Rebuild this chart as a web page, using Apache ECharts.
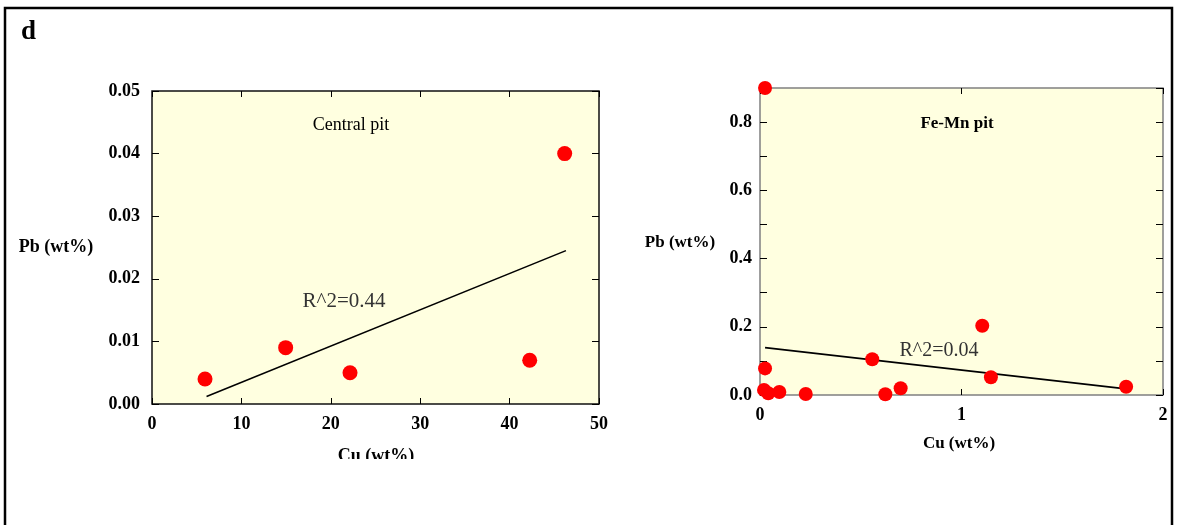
<!DOCTYPE html>
<html>
<head>
<meta charset="utf-8">
<script src="https://cdn.jsdelivr.net/npm/echarts@6/dist/echarts.min.js"></script>
<style>
  html, body { margin: 0; padding: 0; background: #ffffff; }
  #chart { width: 1178px; height: 525px; }
</style>
</head>
<body>
<div id="chart"></div>
<script>
// Central pit samples: Cu vs Pb (wt%)
const centralCu = [5.93, 14.95, 22.15, 42.25, 46.16];
const centralPb = [0.004, 0.009, 0.005, 0.007, 0.040];
// Trend line end points for the central pit
const centralFitCu = [6.1, 46.3];
const centralFitPb = [0.0012, 0.0245];
const centralR2 = 'R^2=0.44';

// Fe-Mn pit samples: Cu vs Pb (wt%)
const femnCu = [0.025, 0.025, 0.020, 0.041, 0.096, 0.227, 0.557, 0.622, 0.698, 1.103, 1.146, 1.817];
const femnPb = [0.900, 0.078, 0.015, 0.005, 0.009, 0.003, 0.105, 0.002, 0.020, 0.203, 0.052, 0.024];
// Trend line end points for the Fe-Mn pit
const femnFitCu = [0.025, 1.817];
const femnFitPb = [0.139, 0.018];
const femnR2 = 'R^2=0.04';

const SERIF = '"Liberation Serif", "Times New Roman", serif';
const pairs = (xs, ys) => xs.map((x, i) => [x, ys[i]]);

const chart = echarts.init(document.getElementById('chart'), null, { renderer: 'canvas' });

function axisPair(gridIndex, min, max, interval, opts) {
  // main axis with labels, plus a mirrored axis carrying inside ticks only
  const tick = { show: true, inside: true, length: opts.tickLen, lineStyle: { color: '#000', width: 1 } };
  const line = { show: false, onZero: false };
  const main = {
    type: 'value', gridIndex, min, max, interval, position: opts.pos,
    axisLine: line, splitLine: { show: false },
    axisTick: tick,
    axisLabel: {
      show: true, margin: opts.margin, color: '#000',
      fontFamily: SERIF, fontWeight: 'bold', fontSize: opts.fontSize,
      formatter: opts.formatter, showMinLabel: true, showMaxLabel: true
    }
  };
  const mirror = {
    type: 'value', gridIndex, min, max, interval, position: opts.mirrorPos,
    axisLine: line, splitLine: { show: false },
    axisTick: tick, axisLabel: { show: false }
  };
  return [main, mirror];
}

const xLeft = axisPair(0, 0, 50, 10, { pos: 'bottom', mirrorPos: 'top', tickLen: 6, margin: 11, fontSize: 18, formatter: v => String(v) });
const yLeft = axisPair(0, 0, 0.05, 0.01, { pos: 'left', mirrorPos: 'right', tickLen: 7, margin: 12, fontSize: 18, formatter: v => v.toFixed(2) });
const xRight = axisPair(1, 0, 2, 1, { pos: 'bottom', mirrorPos: 'top', tickLen: 6, margin: 11, fontSize: 18, formatter: v => String(v) });
const yRight = axisPair(1, 0, 0.9, 0.1, { pos: 'left', mirrorPos: 'right', tickLen: 7, margin: 8, fontSize: 18,
  formatter: v => (Math.round(v * 10) % 2 === 0 ? v.toFixed(1) : '') });

const dotStyle = { color: '#ff0000', opacity: 1 };
const fitStyle = { color: '#000', width: 1.6 };

chart.setOption({
  animation: false,
  backgroundColor: '#ffffff',
  grid: [
    { left: 152, top: 91, width: 447, height: 313, show: true, backgroundColor: '#ffffe0', borderColor: '#111', borderWidth: 1.5 },
    { left: 760, top: 88, width: 403, height: 307, show: true, backgroundColor: '#ffffe0', borderColor: '#808080', borderWidth: 1.5 }
  ],
  xAxis: [xLeft[0], xLeft[1], xRight[0], xRight[1]],
  yAxis: [yLeft[0], yLeft[1], yRight[0], yRight[1]],
  series: [
    { type: 'line', xAxisIndex: 0, yAxisIndex: 0, data: pairs(centralFitCu, centralFitPb),
      symbol: 'none', lineStyle: fitStyle, z: 2 },
    { type: 'scatter', xAxisIndex: 0, yAxisIndex: 0, data: pairs(centralCu, centralPb),
      symbol: 'circle', symbolSize: 15, itemStyle: dotStyle, clip: false, z: 3 },
    { type: 'line', xAxisIndex: 2, yAxisIndex: 2, data: pairs(femnFitCu, femnFitPb),
      symbol: 'none', lineStyle: fitStyle, z: 2 },
    { type: 'scatter', xAxisIndex: 2, yAxisIndex: 2, data: pairs(femnCu, femnPb),
      symbol: 'circle', symbolSize: 14, itemStyle: dotStyle, clip: false, z: 3 }
  ],
  graphic: [
    // outer panel frame (open at the bottom)
    { type: 'polyline', shape: { points: [[5, 530], [5, 8], [1172, 8], [1172, 530]] },
      style: { stroke: '#000', lineWidth: 2.5, fill: null }, z: 10 },
    { type: 'text', left: 21, top: 19, style: { text: 'd', font: 'bold 27px ' + SERIF, fill: '#000' } },
    // left panel texts
    { type: 'text', x: 351, y: 125, style: { text: 'Central pit', font: '18px ' + SERIF, fill: '#000', textAlign: 'center', textVerticalAlign: 'middle' }, z: 5 },
    { type: 'text', x: 344, y: 301, style: { text: centralR2, font: '21px ' + SERIF, fill: '#333', textAlign: 'center', textVerticalAlign: 'middle' }, z: 5 },
    { type: 'text', x: 56, y: 247, style: { text: 'Pb (wt%)', font: 'bold 18px ' + SERIF, fill: '#000', textAlign: 'center', textVerticalAlign: 'middle' } },
    { type: 'text', x: 376, y: 456, style: { text: 'Cu (wt%)', font: 'bold 18px ' + SERIF, fill: '#000', textAlign: 'center', textVerticalAlign: 'middle' } },
    { type: 'rect', shape: { x: 320, y: 459, width: 110, height: 20 }, style: { fill: '#ffffff' }, z: 6 },
    // right panel texts
    { type: 'text', x: 957, y: 124, style: { text: 'Fe-Mn pit', font: 'bold 17px ' + SERIF, fill: '#000', textAlign: 'center', textVerticalAlign: 'middle' }, z: 5 },
    { type: 'text', x: 939, y: 351, style: { text: femnR2, font: '20px ' + SERIF, fill: '#333', textAlign: 'center', textVerticalAlign: 'middle' }, z: 5 },
    { type: 'text', x: 680, y: 243, style: { text: 'Pb (wt%)', font: 'bold 17px ' + SERIF, fill: '#000', textAlign: 'center', textVerticalAlign: 'middle' } },
    { type: 'text', x: 959, y: 444, style: { text: 'Cu (wt%)', font: 'bold 17px ' + SERIF, fill: '#000', textAlign: 'center', textVerticalAlign: 'middle' } }
  ]
});
</script>
</body>
</html>
